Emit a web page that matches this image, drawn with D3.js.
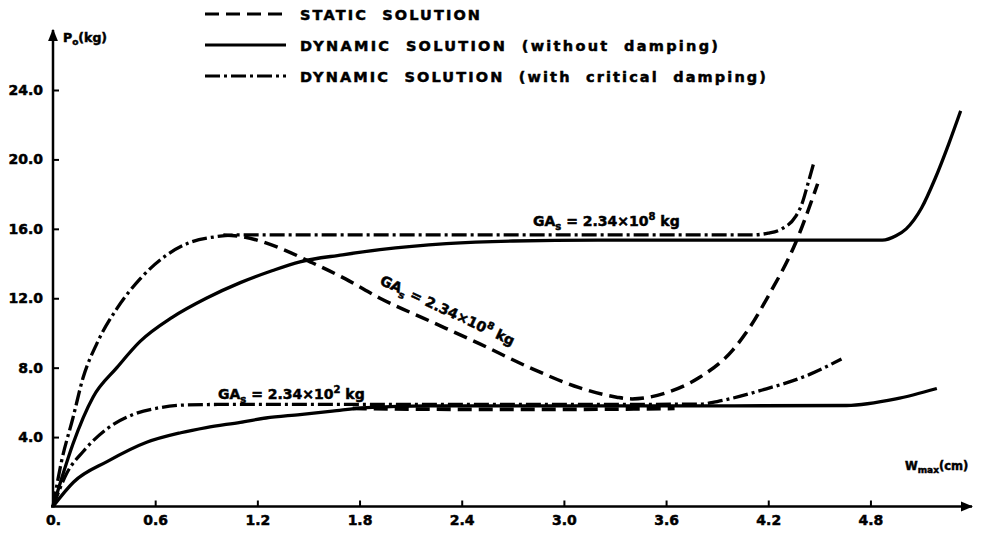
<!DOCTYPE html>
<html>
<head>
<meta charset="utf-8">
<script src="https://cdn.jsdelivr.net/npm/d3@7"></script>
<style>
  html, body { margin: 0; padding: 0; background: #fff; }
  svg { display: block; }
  text { font-family: "DejaVu Sans", "Liberation Sans", sans-serif; font-weight: bold; fill: #000; stroke: #000; stroke-width: 0.5px; }
</style>
</head>
<body>
<svg id="chart" width="994" height="537"></svg>
<script>
// Peak load P0 (kg) against maximum deflection Wmax (cm)

// Axis ticks
const xTicks = [0, 0.6, 1.2, 1.8, 2.4, 3.0, 3.6, 4.2, 4.8];
const xTickLabels = ["0.", "0.6", "1.2", "1.8", "2.4", "3.0", "3.6", "4.2", "4.8"];
const yTicks = [4, 8, 12, 16, 20, 24];
const yTickLabels = ["4.0", "8.0", "12.0", "16.0", "20.0", "24.0"];

// GAs = 2.34x10^8 kg : dynamic, critical damping  [Wmax, P0]
const critHigh = [[0,0],[0.05,2.6],[0.117,5.1],[0.176,7.4],[0.258,9.4],[0.375,11.4],[0.51,13.1],
  [0.669,14.5],[0.80,15.2],[0.96,15.55],[1.1,15.65],[2.0,15.65],[3.0,15.65],[4.1,15.65],
  [4.2,15.75],[4.28,16.0],[4.36,16.7],[4.40,17.5],[4.43,18.5],[4.47,19.9]];
// GAs = 2.34x10^8 kg : dynamic, no damping
const dynHigh = [[0,0],[0.05,1.6],[0.117,3.6],[0.235,6.3],[0.375,8.0],[0.51,9.5],[0.70,10.9],
  [0.90,12.0],[1.10,12.9],[1.29,13.6],[1.45,14.1],[1.7,14.5],[1.92,14.8],[2.31,15.15],
  [2.7,15.3],[3.2,15.35],[4.0,15.35],[4.87,15.35],[4.95,15.6],[5.01,16.0],[5.10,17.2],
  [5.18,18.9],[5.26,20.9],[5.33,22.8]];
// GAs = 2.34x10^8 kg : static
const staticHigh = [[1.0,15.65],[1.11,15.55],[1.33,14.9],[1.51,14.1],[1.72,13.1],[1.92,12.0],
  [2.21,10.7],[2.50,9.4],[2.80,8.0],[3.09,6.85],[3.31,6.3],[3.40,6.2],[3.60,6.55],[3.79,7.4],
  [3.99,9.0],[4.09,10.3],[4.21,12.3],[4.35,14.95],[4.49,18.6]];
// GAs = 2.34x10^2 kg : dynamic, critical damping
const critLow = [[0,0],[0.08,1.9],[0.18,3.2],[0.32,4.5],[0.47,5.3],[0.63,5.7],[0.78,5.85],
  [1.0,5.88],[2.0,5.88],[3.0,5.88],[3.8,5.9],[3.9,6.05],[4.16,6.7],[4.44,7.6],[4.63,8.5]];
// GAs = 2.34x10^2 kg : dynamic, no damping
const dynLow = [[0,0],[0.12,1.4],[0.32,2.6],[0.55,3.7],[0.75,4.25],[0.90,4.55],[1.10,4.85],
  [1.25,5.1],[1.45,5.3],[1.64,5.5],[1.84,5.7],[2.2,5.8],[3.0,5.8],[4.0,5.8],[4.66,5.82],
  [4.95,6.2],[5.19,6.8]];
// GAs = 2.34x10^2 kg : static
const staticLow = [[1.76,5.65],[2.5,5.6],[3.0,5.6],[3.65,5.65]];

const svg = d3.select("#chart");
const x = d3.scaleLinear().domain([0, 5.4]).range([53, 53 + 5.4 * 170.3]);
const y = d3.scaleLinear().domain([0, 24]).range([506.5, 90]);

// arrow heads for the axes
const defs = svg.append("defs");
defs.append("marker").attr("id", "arrow").attr("viewBox", "0 0 10 10")
  .attr("refX", 9).attr("refY", 5).attr("markerWidth", 5).attr("markerHeight", 5)
  .attr("markerUnits", "strokeWidth").attr("orient", "auto")
  .append("path").attr("d", "M0,1 L10,5 L0,9 Z").attr("fill", "#000");

// axes
const xAxis = d3.axisBottom(x).tickValues(xTicks).tickFormat((d, i) => xTickLabels[i])
  .tickSizeInner(-6).tickSizeOuter(0).tickPadding(9);
const gx = svg.append("g").attr("transform", `translate(0,${y(0)})`).call(xAxis);
gx.select(".domain").remove();
gx.selectAll(".tick line").attr("stroke", "#000").attr("stroke-width", 2);
gx.selectAll(".tick text").style("font-size", "14px").style("font-family", "DejaVu Sans").style("font-weight", "bold");

const yAxis = d3.axisLeft(y).tickValues(yTicks).tickFormat((d, i) => yTickLabels[i])
  .tickSizeInner(-6).tickSizeOuter(0).tickPadding(10);
const gy = svg.append("g").attr("transform", `translate(${x(0)},0)`).call(yAxis);
gy.select(".domain").remove();
gy.selectAll(".tick line").attr("stroke", "#000").attr("stroke-width", 2);
gy.selectAll(".tick text").style("font-size", "14px").style("font-family", "DejaVu Sans").style("font-weight", "bold");

svg.append("line").attr("x1", x(0) - 2).attr("x2", 972).attr("y1", y(0)).attr("y2", y(0))
  .attr("stroke", "#000").attr("stroke-width", 2.5).attr("marker-end", "url(#arrow)");
svg.append("line").attr("x1", x(0)).attr("x2", x(0)).attr("y1", y(0) + 1).attr("y2", 30)
  .attr("stroke", "#000").attr("stroke-width", 2.5).attr("marker-end", "url(#arrow)");

// axis titles
const pt = svg.append("text").attr("x", 63).attr("y", 42).style("font-size", "12.5px");
pt.append("tspan").text("P");
pt.append("tspan").attr("dy", 3).style("font-size", "9px").text("o");
pt.append("tspan").attr("dy", -3).text("(kg)");

const wt = svg.append("text").attr("x", 905).attr("y", 470).style("font-size", "11.5px");
wt.append("tspan").text("W");
wt.append("tspan").attr("dy", 3).style("font-size", "9px").text("max");
wt.append("tspan").attr("dy", -3).text("(cm)");

// curves
const line = d3.line().x(d => x(d[0])).y(d => y(d[1])).curve(d3.curveMonotoneX);
const styles = {
  solid: null,
  dashed: "14,7",
  dashdot: "15,4,3,4"
};
const series = [
  { data: dynHigh, dash: styles.solid, w: 3.3 },
  { data: dynLow, dash: styles.solid, w: 3.3 },
  { data: critHigh, dash: styles.dashdot, w: 3.3 },
  { data: critLow, dash: styles.dashdot, w: 3.3 },
  { data: staticHigh, dash: styles.dashed, w: 3.5 },
  { data: staticLow, dash: styles.dashed, w: 3.8 }
];
svg.append("g").selectAll("path").data(series).join("path")
  .attr("d", d => line(d.data))
  .attr("fill", "none").attr("stroke", "#000")
  .attr("stroke-width", d => d.w)
  .attr("stroke-linecap", "butt")
  .attr("stroke-dasharray", d => d.dash);

// curve annotations
function gaLabel(g, exp) {
  g.append("tspan").text("GA");
  g.append("tspan").attr("dy", 4).style("font-size", "10px").text("s");
  g.append("tspan").attr("dy", -4).text(" = 2.34×10");
  g.append("tspan").attr("dy", -6).style("font-size", "10px").text(exp);
  g.append("tspan").attr("dy", 6).text(" kg");
}
const a1 = svg.append("text").attr("x", 533).attr("y", 226).style("font-size", "14px");
gaLabel(a1, "8");
const a2 = svg.append("text").attr("transform", "translate(379,284) rotate(25)").style("font-size", "14px");
gaLabel(a2, "8");
const a3 = svg.append("text").attr("x", 218).attr("y", 399).style("font-size", "14px");
gaLabel(a3, "2");

// legend
const legend = [
  { label: "STATIC  SOLUTION", dash: styles.dashed, width: 180 },
  { label: "DYNAMIC  SOLUTION  (without  damping)", dash: styles.solid, width: 418 },
  { label: "DYNAMIC  SOLUTION  (with  critical  damping)", dash: styles.dashdot, width: 466 }
];
const lg = svg.append("g").selectAll("g").data(legend).join("g")
  .attr("transform", (d, i) => `translate(0,${14 + i * 31})`);
lg.append("line").attr("x1", 205).attr("x2", 286).attr("y1", 0).attr("y2", 0)
  .attr("stroke", "#000").attr("stroke-width", 2.8).attr("stroke-dasharray", d => d.dash);
lg.append("text").attr("x", 300).attr("y", 5.5).style("font-size", "14.5px")
  .style("white-space", "pre")
  .attr("textLength", d => d.width).attr("lengthAdjust", "spacing")
  .text(d => d.label);
</script>
</body>
</html>
